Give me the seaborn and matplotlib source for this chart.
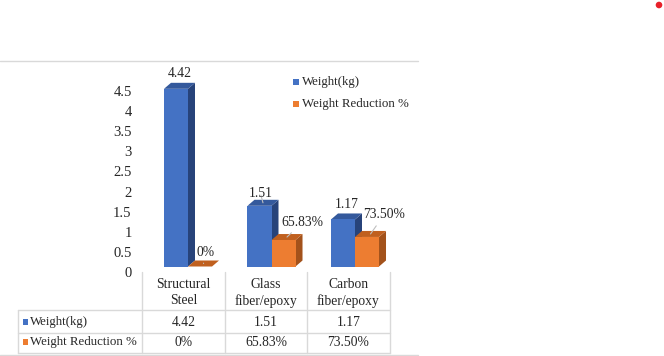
import numpy as np
import pandas as pd
import matplotlib
matplotlib.use("Agg")
import matplotlib.pyplot as plt
import matplotlib.transforms as mtransforms
from matplotlib.patches import Polygon, Rectangle, Circle
import seaborn as sns

# ---------------- data ----------------
materials = ["Structural\nSteel", "Glass\nfiber/epoxy", "Carbon\nfiber/epoxy"]
series_names = ["Weight(kg)", "Weight Reduction %"]
weight_kg = [4.42, 1.51, 1.17]
weight_reduction = [0.0, 0.6583, 0.7350]          # plotted as fraction on the same axis
weight_labels = ["4.42", "1.51", "1.17"]
reduction_labels = ["0%", "65.83%", "73.50%"]
y_ticks = [0, 0.5, 1, 1.5, 2, 2.5, 3, 3.5, 4, 4.5]

# ---------------- style ----------------
sns.set_theme(style="white")
plt.rcParams["font.family"] = ["Liberation Serif", "DejaVu Serif"]

BLUE = "#4472C4"; BLUE_TOP = "#34599C"; BLUE_SIDE = "#27437A"
ORANGE = "#ED7D31"; ORANGE_TOP = "#C0601F"; ORANGE_SIDE = "#A3521B"
GRID = "#D9D9D9"
TXT = "#262626"
FS = 9.3
W, H = 664, 356

fig = plt.figure(figsize=(W / 100, H / 100), dpi=100)

# overlay axes in pixel coordinates (for table, borders, legend)
ov = fig.add_axes([0, 0, 1, 1])
ov.set_xlim(0, W); ov.set_ylim(H, 0); ov.axis("off")

# main bar axes
px_left, px_right = 146.25, 396.75
px_zero, px_per_unit, ymax = 266.5, 40.2, 5.0
ax = fig.add_axes([px_left / W, (H - px_zero) / H,
                   (px_right - px_left) / W, ymax * px_per_unit / H])
ax.patch.set_alpha(0)

df = pd.DataFrame({
    "Material": materials * 2,
    "Series": [series_names[0]] * 3 + [series_names[1]] * 3,
    "Value": weight_kg + weight_reduction,
})
sns.barplot(data=df, x="Material", y="Value", hue="Series",
            palette=[BLUE, ORANGE], width=0.575, saturation=1,
            gap=0, legend=False, ax=ax, zorder=3, linewidth=0)
ax.set_xlim(-0.5, 2.5)
ax.set_ylim(0, ymax)
ax.set_xlabel(""); ax.set_ylabel("")
ax.set_xticks([])
ax.set_yticks(y_ticks)
ax.set_yticklabels([f"{t:g}" for t in y_ticks])
ax.tick_params(axis="y", length=0, pad=10.5, labelsize=10.5, colors=TXT)
shift = mtransforms.ScaledTranslation(0, -5.5 / 100, fig.dpi_scale_trans)
for lab in ax.get_yticklabels():
    lab.set_transform(lab.get_transform() + shift)
for s in ax.spines.values():
    s.set_visible(False)

# 3D extrusion faces derived from bar geometry
data_per_px_x = 3.0 / (px_right - px_left)
dx = 7 * data_per_px_x
dy = 6 / px_per_unit
bars = [p for p in ax.patches if isinstance(p, Rectangle)]
n = len(materials)
for i, b in enumerate(bars):
    x0 = b.get_x(); w = b.get_width(); h = b.get_height(); x1 = x0 + w
    top_c, side_c = (BLUE_TOP, BLUE_SIDE) if i < n else (ORANGE_TOP, ORANGE_SIDE)
    ax.add_patch(Polygon([(x1, 0), (x1 + dx, dy), (x1 + dx, h + dy), (x1, h)],
                         closed=True, facecolor=side_c, edgecolor="none", zorder=2 + i * 0.01))
    ax.add_patch(Polygon([(x0, h), (x0 + dx, h + dy), (x1 + dx, h + dy), (x1, h)],
                         closed=True, facecolor=top_c, edgecolor="none", zorder=2 + i * 0.01))

# data labels (offsets in pixels from centre of each bar's top face)
label_texts = weight_labels + reduction_labels
offsets = [(0.5, 12.8), (-2.5, 9), (0, 11.5), (2.5, 11.5), (15.5, 15), (13.5, 19)]
leaders = [False, True, False, True, True, True]
for i, b in enumerate(bars):
    xc = b.get_x() + b.get_width() / 2
    h = b.get_height()
    xy = (xc + dx / 2, h + dy / 2)
    ap = dict(arrowstyle="-", color="#BFBFBF", lw=0.8, shrinkA=1, shrinkB=0) if leaders[i] else None
    ax.annotate(label_texts[i], xy=xy, xytext=offsets[i], textcoords="offset pixels",
                ha="center", va="center", fontsize=FS + 0.5, color=TXT,
                arrowprops=ap, zorder=6)

# chart border lines
ov.plot([0, 418], [60.5, 60.5], color=GRID, lw=1)
ov.plot([0, 418], [355, 355], color=GRID, lw=1)

# legend
for k, (name, col) in enumerate(zip(series_names, [BLUE, ORANGE])):
    yc = 81.5 + k * 22.5
    ov.add_patch(Rectangle((293, yc - 3), 6, 6, facecolor=col, edgecolor="none"))
    ov.text(302, yc, name, ha="left", va="center", fontsize=FS, color=TXT)

# data table
col_edges = [142, 225, 307, 390]
for xe in col_edges:
    ov.plot([xe, xe], [272, 353], color=GRID, lw=1)
ov.plot([18, 18], [310, 353], color=GRID, lw=1)
for yl in [310, 333, 353]:
    ov.plot([18, 390], [yl, yl], color=GRID, lw=1)
centers = [(col_edges[j] + col_edges[j + 1]) / 2 for j in range(3)]
for j, m in enumerate(materials):
    ov.text(centers[j], 293, m, ha="center", va="center", fontsize=FS + 0.5,
            color=TXT, linespacing=1.3)
    ov.text(centers[j], 322, weight_labels[j], ha="center", va="center",
            fontsize=FS + 0.5, color=TXT)
    ov.text(centers[j], 342, reduction_labels[j], ha="center", va="center",
            fontsize=FS + 0.5, color=TXT)
for k, (name, col, yc) in enumerate(zip(series_names, [BLUE, ORANGE], [322, 342])):
    ov.add_patch(Rectangle((22.5, yc - 3), 5, 6, facecolor=col, edgecolor="none"))
    ov.text(30, yc, name, ha="left", va="center", fontsize=FS, color=TXT)

# red dot in corner
ov.add_patch(Circle((659, 5), 3.3, facecolor="#E8212A", edgecolor="none"))

fig.savefig("out.png", dpi=100)
